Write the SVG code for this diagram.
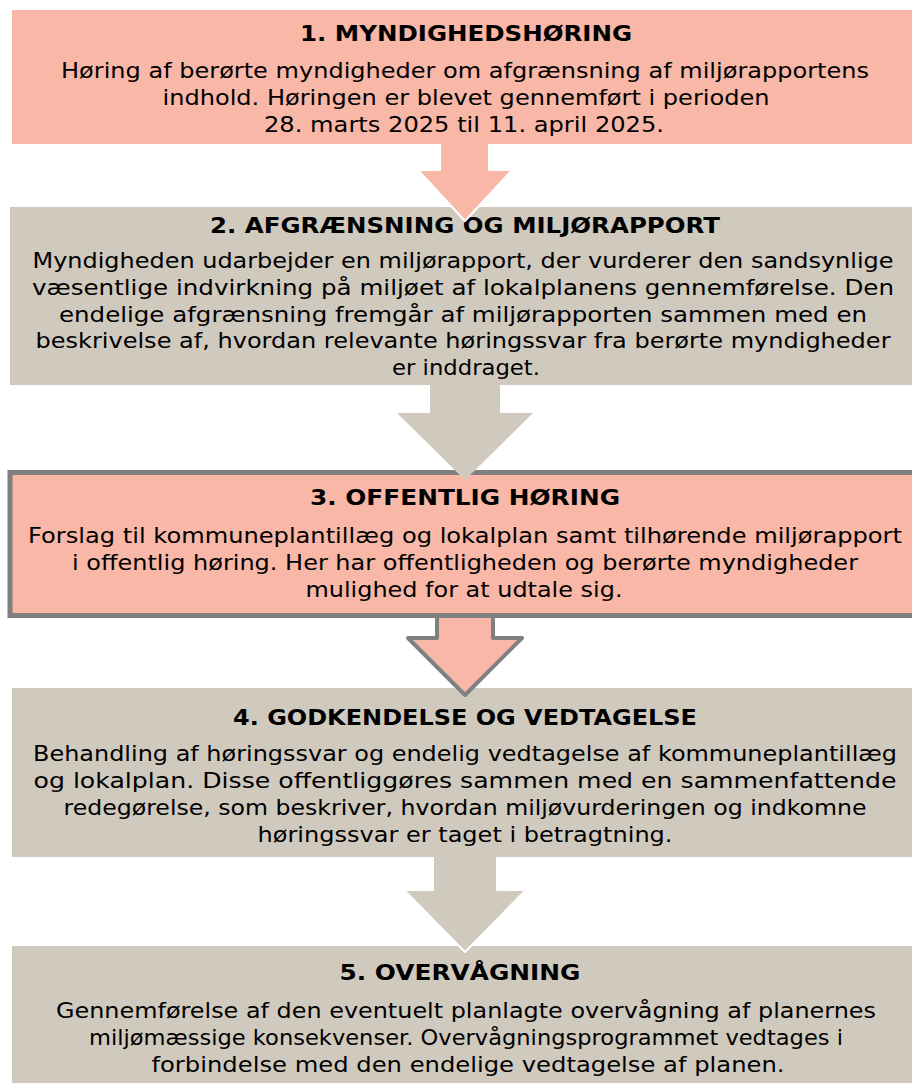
<svg xmlns="http://www.w3.org/2000/svg" width="912" height="1083" viewBox="0 0 912 1083">
<style>
.salmon{fill:#f8b7a7}
.beige{fill:#d0c9be}
.t{font-family:"DejaVu Sans","Liberation Sans",sans-serif;font-size:21.5px;fill:#000;text-anchor:middle}
.h{font-weight:bold}
</style>
<rect width="912" height="1083" fill="#fff"/>
<g id="node1">
<rect class="salmon" x="12" y="10" width="910" height="134"/>
<text class="t h" x="466" y="41" textLength="332" lengthAdjust="spacingAndGlyphs">1. MYNDIGHEDSHØRING</text>
<text class="t" x="465" y="78" textLength="808" lengthAdjust="spacingAndGlyphs">Høring af berørte myndigheder om afgrænsning af miljørapportens</text>
<text class="t" x="466" y="105" textLength="607" lengthAdjust="spacingAndGlyphs">indhold. Høringen er blevet gennemført i perioden</text>
<text class="t" x="464" y="132" textLength="400" lengthAdjust="spacingAndGlyphs">28. marts 2025 til 11. april 2025.</text>
</g>
<g id="node2">
<rect class="beige" x="10" y="207" width="912" height="178"/>
<text class="t h" x="465" y="233" textLength="510" lengthAdjust="spacingAndGlyphs">2. AFGRÆNSNING OG MILJØRAPPORT</text>
<text class="t" x="463" y="268" textLength="861" lengthAdjust="spacingAndGlyphs">Myndigheden udarbejder en miljørapport, der vurderer den sandsynlige</text>
<text class="t" x="463" y="295" textLength="862" lengthAdjust="spacingAndGlyphs">væsentlige indvirkning på miljøet af lokalplanens gennemførelse. Den</text>
<text class="t" x="463" y="322" textLength="808" lengthAdjust="spacingAndGlyphs">endelige afgrænsning fremgår af miljørapporten sammen med en</text>
<text class="t" x="463" y="348" textLength="855" lengthAdjust="spacingAndGlyphs">beskrivelse af, hvordan relevante høringssvar fra berørte myndigheder</text>
<text class="t" x="466" y="375" textLength="148" lengthAdjust="spacingAndGlyphs">er inddraget.</text>
</g>
<g id="node3">
<rect class="salmon" x="10" y="472.5" width="920" height="143" stroke="#808080" stroke-width="5"/>
<text class="t h" x="465" y="505" textLength="310" lengthAdjust="spacingAndGlyphs">3. OFFENTLIG HØRING</text>
<text class="t" x="465" y="543" textLength="874" lengthAdjust="spacingAndGlyphs">Forslag til kommuneplantillæg og lokalplan samt tilhørende miljørapport</text>
<text class="t" x="465" y="570" textLength="786" lengthAdjust="spacingAndGlyphs">i offentlig høring. Her har offentligheden og berørte myndigheder</text>
<text class="t" x="464" y="597" textLength="317" lengthAdjust="spacingAndGlyphs">mulighed for at udtale sig.</text>
</g>
<g id="node4">
<rect class="beige" x="12" y="688" width="910" height="169"/>
<text class="t h" x="465" y="725" textLength="464" lengthAdjust="spacingAndGlyphs">4. GODKENDELSE OG VEDTAGELSE</text>
<text class="t" x="465" y="761" textLength="864" lengthAdjust="spacingAndGlyphs">Behandling af høringssvar og endelig vedtagelse af kommuneplantillæg</text>
<text class="t" x="465" y="788" textLength="863" lengthAdjust="spacingAndGlyphs">og lokalplan. Disse offentliggøres sammen med en sammenfattende</text>
<text class="t" x="465" y="815" textLength="803" lengthAdjust="spacingAndGlyphs">redegørelse, som beskriver, hvordan miljøvurderingen og indkomne</text>
<text class="t" x="465" y="842" textLength="415" lengthAdjust="spacingAndGlyphs">høringssvar er taget i betragtning.</text>
</g>
<g id="node5">
<rect class="beige" x="12" y="946" width="910" height="140"/>
<text class="t h" x="460" y="980" textLength="241" lengthAdjust="spacingAndGlyphs">5. OVERVÅGNING</text>
<text class="t" x="466" y="1018" textLength="820" lengthAdjust="spacingAndGlyphs">Gennemførelse af den eventuelt planlagte overvågning af planernes</text>
<text class="t" x="466" y="1045" textLength="754" lengthAdjust="spacingAndGlyphs">miljømæssige konsekvenser. Overvågningsprogrammet vedtages i</text>
<text class="t" x="468" y="1072" textLength="633" lengthAdjust="spacingAndGlyphs">forbindelse med den endelige vedtagelse af planen.</text>
</g>
<g id="connectors">
<path class="salmon" d="M440,144 V170 H418 L465,221 L512,170 H489 V144" stroke="#fff" stroke-width="2" stroke-linejoin="round"/>
<path class="beige" d="M430,385 V413 H397 L465,480 L533,413 H500 V385 Z"/>
<path class="salmon" d="M437,618 V638 H408 L465,695 L522,638 H493 V618" stroke="#808080" stroke-width="4" stroke-linejoin="round"/>
<path class="beige" d="M433,857 V890 H404 L465,952 L526,890 H497 V857" stroke="#fff" stroke-width="2" stroke-linejoin="round"/>
</g>
</svg>
